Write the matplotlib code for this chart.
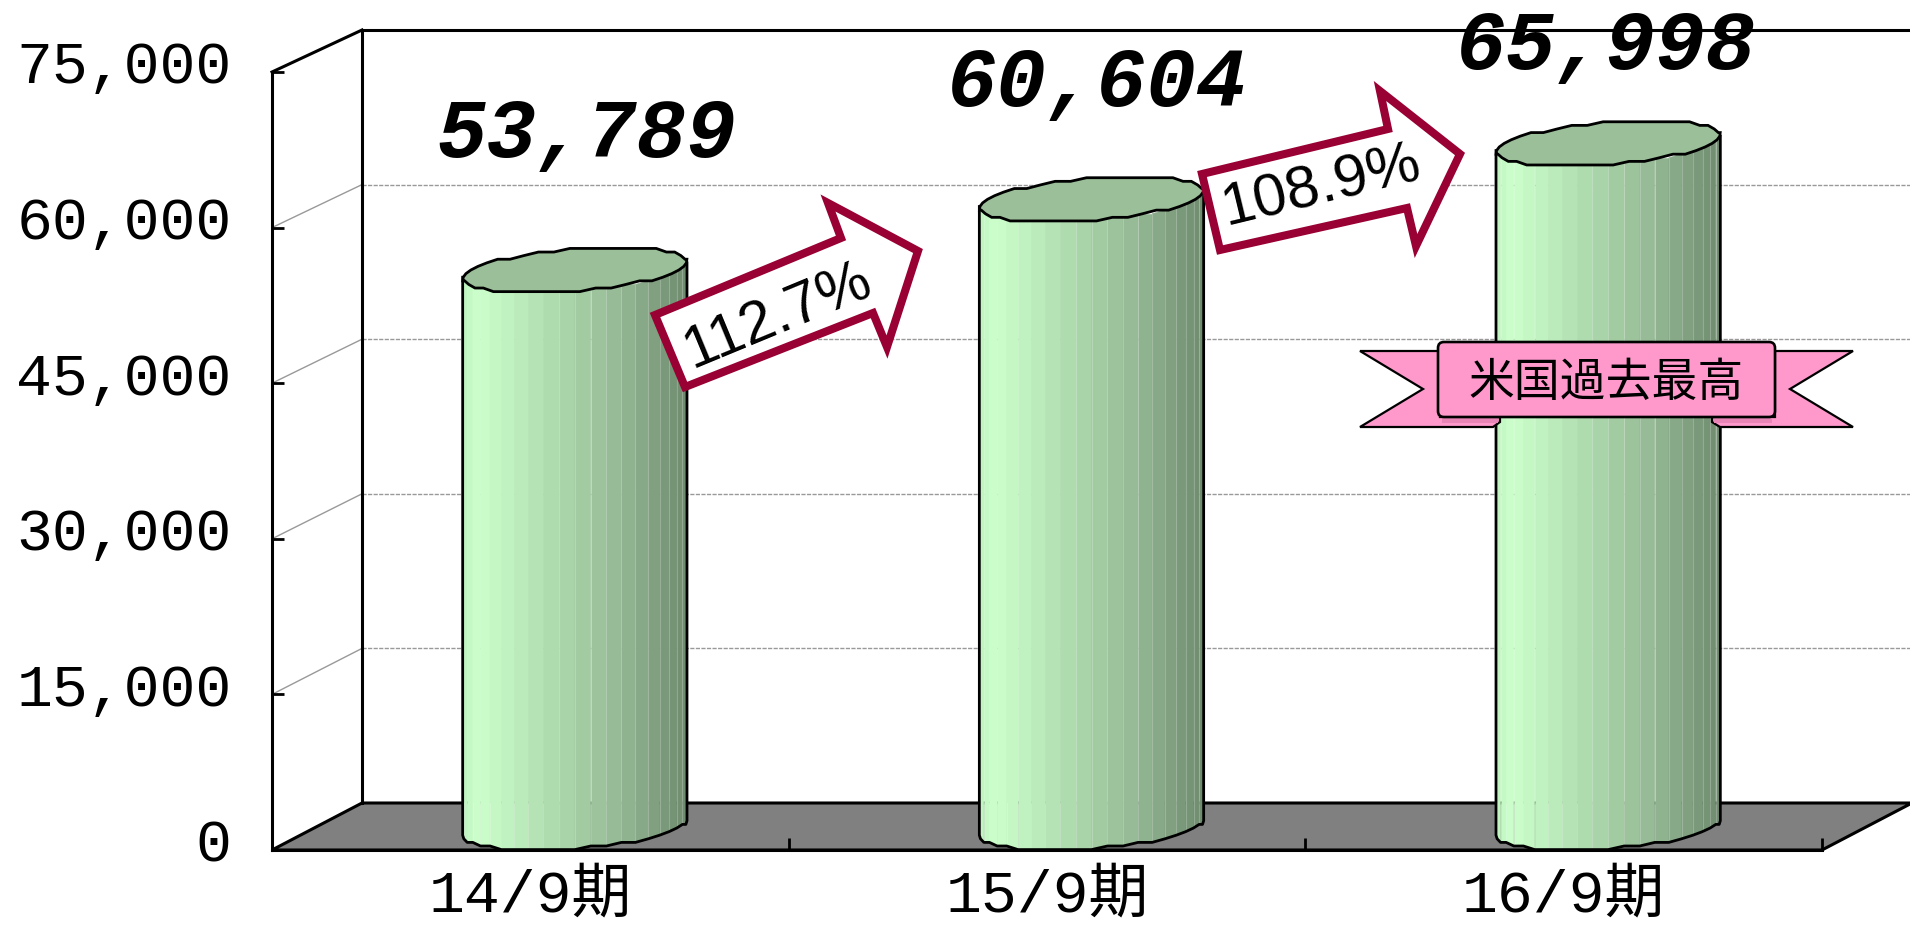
import numpy as np
import matplotlib
matplotlib.use('Agg')
import matplotlib.pyplot as plt
from matplotlib.colors import LinearSegmentedColormap
from matplotlib.patches import FancyBboxPatch, Polygon
from matplotlib.transforms import Affine2D, ScaledTranslation

# Chart data
categories = ['14/9期', '15/9期', '16/9期']
sales = [53789, 60604, 65998]
growth_labels = ['112.7%', '108.9%']
y_ticks = [0, 15000, 30000, 45000, 60000, 75000]
banner_label = '米国過去最高'

# Layout, in pixels of the 1910x926 picture
W, H = 1910, 926
FRONT_LEFT, FRONT_RIGHT = 272, 1822
FRONT_TOP, FRONT_BOTTOM = 72, 850
DEPTH_X, DEPTH_Y = 90, 47
BACK_SCALE = 773 / 778
FONT_MONO = 'Liberation Mono'
FONT_CJK = 'Noto Sans CJK JP'
MAROON = '#990033'
PINK = '#FF99CC'

fig = plt.figure(figsize=(W / 100, H / 100), dpi=100, facecolor='white')

# Main axes sit on the front plane of the 3D box
ax = fig.add_axes([FRONT_LEFT / W, 1 - FRONT_BOTTOM / H,
                   (FRONT_RIGHT - FRONT_LEFT) / W, (FRONT_BOTTOM - FRONT_TOP) / H])
ax.set_xlim(0, len(categories))
ax.set_ylim(0, y_ticks[-1])
ax.patch.set_alpha(0)
PX_X = len(categories) / (FRONT_RIGHT - FRONT_LEFT)
PX_Y = y_ticks[-1] / (FRONT_BOTTOM - FRONT_TOP)

for side in ['top', 'right']:
    ax.spines[side].set_visible(False)
for side in ['left', 'bottom']:
    ax.spines[side].set_linewidth(2.2)
    ax.spines[side].set_zorder(6)

# Ticks and tick labels
ax.set_yticks(y_ticks)
ax.set_yticklabels([f'{v:,}' for v in y_ticks], fontsize=43, family=FONT_MONO)
ax.tick_params(axis='y', direction='in', length=8.5, width=2, pad=29)
up = ScaledTranslation(0, 10 / 100, fig.dpi_scale_trans)
for label in ax.get_yticklabels():
    label.set_transform(label.get_transform() + up)

ax.set_xticks(range(len(categories) + 1))
ax.set_xticklabels([])
ax.set_xticks(np.arange(len(categories)) + 0.5, minor=True)
ax.set_xticklabels(categories, minor=True, fontsize=43, family=[FONT_MONO, FONT_CJK])
ax.tick_params(axis='x', which='major', direction='in', length=8.5, width=2)
ax.tick_params(axis='x', which='minor', length=0, pad=13)

# Back wall and floor
back = Affine2D().scale(1, BACK_SCALE) + ax.transData + Affine2D().translate(DEPTH_X, DEPTH_Y)
x_max = len(categories)
x_end = x_max + DEPTH_X * PX_X
floor = [(0, 0), (x_max, 0), (x_end, DEPTH_Y * PX_Y), (DEPTH_X * PX_X, DEPTH_Y * PX_Y)]
ax.add_patch(Polygon(floor, closed=True, fc='#808080', ec='black', lw=2.2, clip_on=False, zorder=1))

for v in y_ticks[1:-1]:
    ax.plot([0, x_max], [v, v], transform=back, color='#999999', lw=1, ls=(0, (3, 1)),
            clip_on=False, zorder=1)
    ax.plot([0, DEPTH_X * PX_X], [v, v + (DEPTH_Y - (1 - BACK_SCALE) * v / PX_Y) * PX_Y],
            color='#999999', lw=1, clip_on=False, zorder=1)
top = y_ticks[-1]
ax.plot([x_max, 0, 0], [top, top, 0], transform=back, color='black', lw=2.2, clip_on=False, zorder=2)
ax.plot([0, DEPTH_X * PX_X], [top, top + (DEPTH_Y - (1 - BACK_SCALE) * top / PX_Y) * PX_Y],
        color='black', lw=2.2, clip_on=False, zorder=2)

# Cylinders: a ring of flat facets, pixel offsets around a centre at mid depth
RING_A, RING_B, RING_D = 104, 42, 22
MID_X, MID_Y = 44.5, 22
N_FACETS = 44
T0 = np.arctan2(RING_B, RING_A)
shade = LinearSegmentedColormap.from_list('cyl', [(0, '#BEF2BE'), (0.07, '#CCFFCC'), (0.4, '#AEDBAE'),
                                                  (0.7, '#94B894'), (1, '#6E8A6E')])


def ring(t):
    dx = RING_A * np.cos(t) + RING_B * np.sin(t)
    # stepped outline, the facets land on a coarse grid in the original
    dy = np.round(RING_D * np.sin(t) / 3.6) * 3.6
    return dx, dy


t_front = np.linspace(T0 + np.pi, T0 + 2 * np.pi, N_FACETS // 2 + 1)
t_all = np.linspace(0, 2 * np.pi, N_FACETS + 1)
half_w = np.hypot(RING_A, RING_B)

for i, value in enumerate(sales):
    cx = i + 0.5 + MID_X * PX_X
    base = MID_Y * PX_Y
    dx, dy = ring(t_front)
    xs = cx + dx * PX_X
    y_low = base + dy * PX_Y
    y_high = value + base + dy * PX_Y

    for k in range(len(xs) - 1):
        frac = ((dx[k] + dx[k + 1]) / 2 + half_w) / (2 * half_w)
        ax.fill([xs[k], xs[k + 1], xs[k + 1], xs[k]],
                [y_low[k], y_low[k + 1], y_high[k + 1], y_high[k]],
                color=shade(frac), lw=0.4, clip_on=False, zorder=3)
        if k > 0:
            seam_top = y_high[k] if frac > 0.45 else DEPTH_Y * PX_Y
            ax.plot([xs[k], xs[k]], [y_low[k], seam_top], color='white', alpha=0.22, lw=0.8,
                    clip_on=False, zorder=3)

    ax.plot(np.r_[xs[0], xs, xs[-1]], np.r_[y_high[0], y_low, y_high[-1]], color='black', lw=2,
            clip_on=False, zorder=4)
    rx, ry = ring(t_all)
    ax.fill(cx + rx * PX_X, value + base + ry * PX_Y, fc='#9BBF99', ec='black', lw=2,
            clip_on=False, zorder=4)

# Overlay in picture pixels for the value labels and callout shapes
over = fig.add_axes([0, 0, 1, 1], zorder=5)
over.set_xlim(0, W)
over.set_ylim(H, 0)
over.axis('off')

value_pos = [(586, 135), (1097, 84), (1606, 47)]
for v, (px, py) in zip(sales, value_pos):
    over.text(px, py, f'{v:,}', fontsize=60, family=FONT_MONO, weight='bold', style='italic',
              ha='center', va='center')

arrow_1 = [(655, 315), (685, 387), (873, 313), (887, 347), (918, 251), (828, 203), (841, 238)]
arrow_2 = [(1202, 174), (1220, 250), (1407, 208), (1416, 246), (1460, 154), (1380, 91), (1388, 129)]
for pts, txt, pos, angle in [(arrow_1, growth_labels[0], (778, 316), 22.5),
                             (arrow_2, growth_labels[1], (1321, 187), 13.6)]:
    over.add_patch(Polygon(pts, closed=True, fc='white', ec=MAROON, lw=5.8, joinstyle='miter'))
    over.text(pos[0], pos[1], txt, fontsize=43, family='Liberation Sans', rotation=angle,
              rotation_mode='anchor', ha='center', va='center')

# Banner
tail_l = [(1360, 351), (1440, 351), (1440, 417), (1500, 417), (1500, 422), (1493, 427),
          (1360, 427), (1423, 389)]
tail_r = [(1853, 351), (1775, 351), (1775, 417), (1712, 417), (1712, 422), (1720, 427),
          (1853, 427), (1790, 389)]
for pts in [tail_l, tail_r]:
    over.add_patch(Polygon(pts, closed=True, fc=PINK, ec='black', lw=1.6))
for x0, x1 in [(1442, 1498), (1714, 1772)]:
    over.fill([x0, x1, x1, x0], [419, 419, 423, 423], color='#E884B6', lw=0)
over.add_patch(FancyBboxPatch((1441, 345), 331, 69, boxstyle='round,pad=3,rounding_size=6',
                              fc=PINK, ec='black', lw=1.9))
over.text(1606, 383, banner_label, fontsize=33, family=FONT_CJK, ha='center', va='center')

fig.savefig('out.png', dpi=100)
